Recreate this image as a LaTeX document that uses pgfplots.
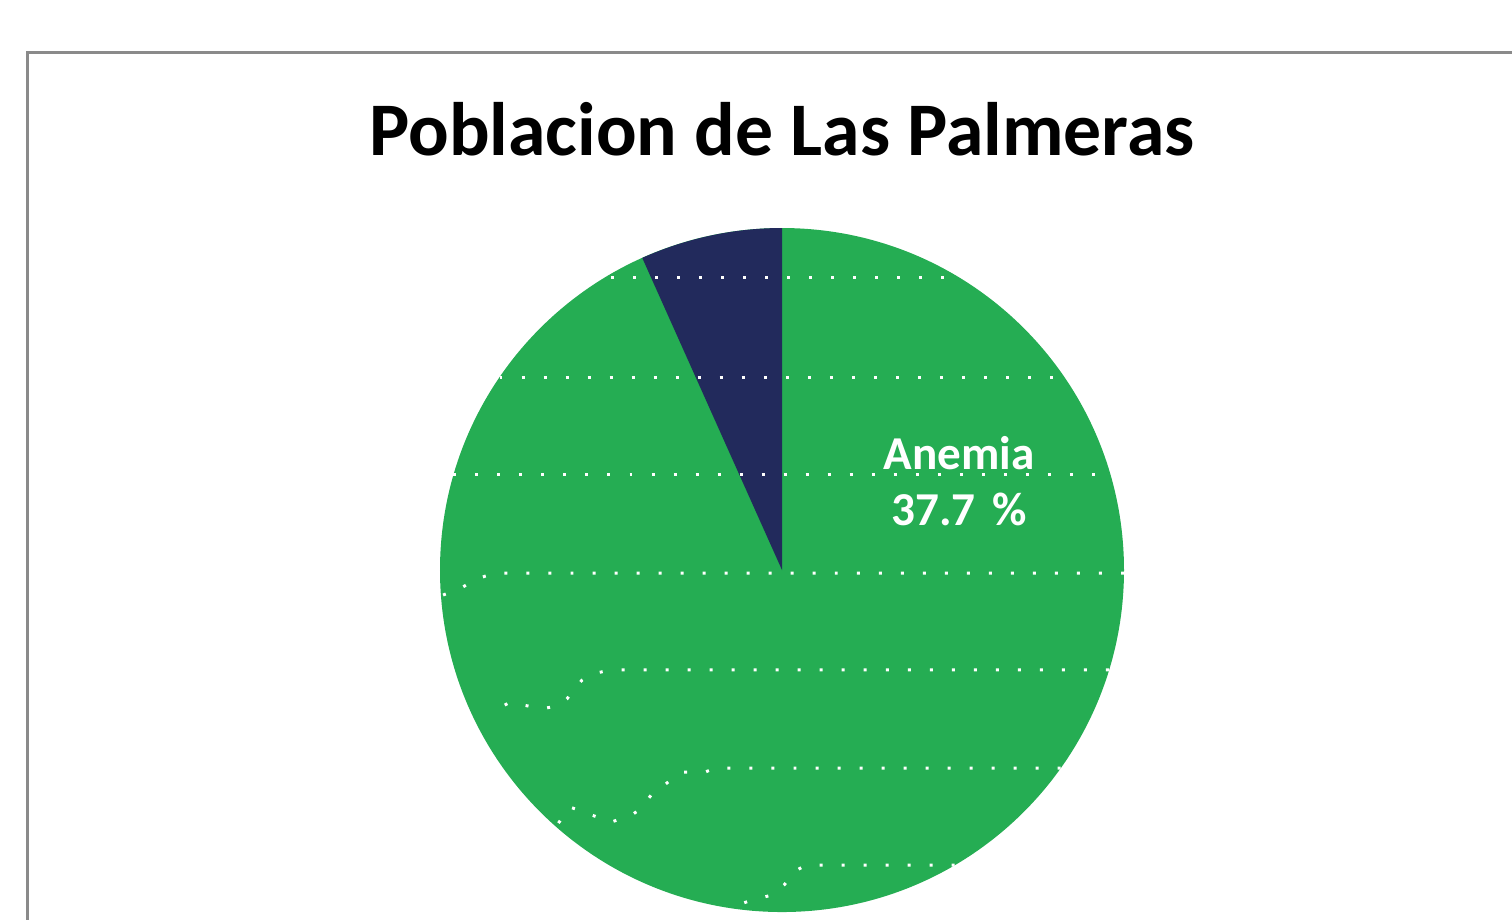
\documentclass[border=0pt]{standalone}
\usepackage{fontspec}
\setmainfont{Carlito}
\usepackage{pgfplots}
\pgfplotsset{compat=1.18}
\definecolor{piegreen}{HTML}{25AD53}
\definecolor{pienavy}{HTML}{222A5C}
\definecolor{framegray}{HTML}{8A8A8A}
\begin{document}
\begin{tikzpicture}
\useasboundingbox (0,0) rectangle (16,9.725);
\clip (0,0) rectangle (16,9.725);
\draw[framegray, line width=0.9pt] (0.291,-1) -- (0.291,9.169) -- (17,9.169);
\begin{axis}[at={(8.275cm,3.693cm)}, anchor=origin, x=3.619cm, y=3.619cm,
  xmin=-1.2, xmax=1.2, ymin=-1.05, ymax=1.4, hide axis, clip=false,
  dotrow/.style={white, no markers, line width=0.9pt, dash pattern=on 0.9pt off 5.73pt}]
% slice sizes in percent
\pgfmathsetmacro{\navyend}{90+3.6*6.7}
\fill[piegreen] (axis cs:0,0) -- (axis cs:0,1) arc[start angle=90, end angle=-270, radius=1] -- cycle;
\fill[pienavy] (axis cs:0,0) -- (axis cs:0,1) arc[start angle=90, end angle=\navyend, radius=1] -- cycle;
% white dotted rows
\addplot[dotrow] coordinates {(-0.500,0.854) (0.500,0.854)};
\addplot[dotrow] coordinates {(-0.826,0.564) (0.826,0.564)};
\addplot[dotrow] coordinates {(-0.961,0.278) (0.961,0.278)};
\addplot[dotrow] coordinates {(1.0,-0.009) (-0.833,-0.009) (-0.868,-0.018) (-0.898,-0.029) (-0.944,-0.056) (-0.991,-0.073)};
\addplot[dotrow] coordinates {(0.956,-0.292) (-0.500,-0.292) (-0.556,-0.304) (-0.585,-0.322) (-0.629,-0.377) (-0.658,-0.398) (-0.705,-0.406) (-0.795,-0.386) (-0.816,-0.398)};
\addplot[dotrow] coordinates {(0.815,-0.579) (-0.196,-0.579) (-0.225,-0.591) (-0.289,-0.591) (-0.307,-0.599) (-0.354,-0.637) (-0.380,-0.655) (-0.418,-0.702) (-0.444,-0.719) (-0.500,-0.737) (-0.620,-0.693) (-0.658,-0.746)};
\addplot[dotrow] coordinates {(0.505,-0.863) (0.070,-0.863) (0.044,-0.877) (0.006,-0.921) (-0.029,-0.950) (-0.096,-0.968) (-0.123,-0.977)};
\node[font=\bfseries\fontsize{22.8}{27}\selectfont, anchor=base] at (axis cs:0,1.213) {Poblacion de Las Palmeras};
\node[white, font=\bfseries\fontsize{14.2}{16.9}\selectfont, align=center] at (axis cs:0.518,0.260) {Anemia\\37.7\hspace{0.35em}\%};
\end{axis}
\end{tikzpicture}
\end{document}
